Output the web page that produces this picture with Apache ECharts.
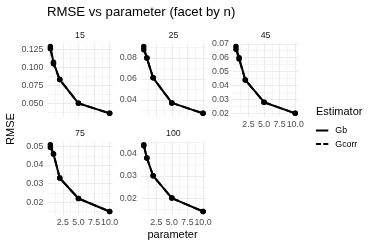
<!DOCTYPE html>
<html><head><meta charset="utf-8">
<script src="https://cdn.jsdelivr.net/npm/echarts@6/dist/echarts.min.js"></script>
<style>html,body{margin:0;padding:0;background:#fff}#c{width:373px;height:249px}</style>
</head><body><div id="c"></div>
<script>
// ---- data ----
const params = [0.5, 1, 2, 5, 10];
const facets = ['15', '25', '45', '75', '100'];
const gb15 = [0.129, 0.107, 0.083, 0.050, 0.036];
const gcorr15 = [0.126, 0.105, 0.083, 0.050, 0.036];
const gb25 = [0.091, 0.080, 0.061, 0.037, 0.027];
const gcorr25 = [0.088, 0.080, 0.061, 0.037, 0.027];
const gb45 = [0.068, 0.060, 0.044, 0.028, 0.020];
const gcorr45 = [0.066, 0.059, 0.044, 0.028, 0.020];
const gb75 = [0.051, 0.046, 0.033, 0.022, 0.015];
const gcorr75 = [0.0495, 0.046, 0.033, 0.022, 0.015];
const gb100 = [0.044, 0.038, 0.030, 0.020, 0.014];
const gcorr100 = [0.0435, 0.038, 0.030, 0.020, 0.014];
// ---- tick labels ----
const xTicks = ['2.5', '5.0', '7.5', '10.0'];
const xMinor = [1.25, 3.75, 6.25, 8.75];
const yTicks15 = ['0.050', '0.075', '0.100', '0.125'];
const yMinor15 = [0.0375, 0.0625, 0.0875, 0.1125];
const yTicks25 = ['0.04', '0.06', '0.08'];
const yMinor25 = [0.03, 0.05, 0.07, 0.09];
const yTicks45 = ['0.02', '0.03', '0.04', '0.05', '0.06', '0.07'];
const yMinor45 = [0.025, 0.035, 0.045, 0.055, 0.065];
const yTicks75 = ['0.02', '0.03', '0.04', '0.05'];
const yMinor75 = [0.015, 0.025, 0.035, 0.045];
const yTicks100 = ['0.02', '0.03', '0.04'];
const yMinor100 = [0.015, 0.025, 0.035, 0.045];

const gbAll = [gb15, gb25, gb45, gb75, gb100];
const gcAll = [gcorr15, gcorr25, gcorr45, gcorr75, gcorr100];
const yTickAll = [yTicks15, yTicks25, yTicks45, yTicks75, yTicks100];
const yMinorAll = [yMinor15, yMinor25, yMinor45, yMinor75, yMinor100];

// ---- layout ----
const FONT = 'Liberation Sans';
const W = 65.2, H = 73.5;
const pos = [[47.4, 43.2], [140.8, 43.2], [233.0, 43.2], [47.4, 141.3], [140.8, 141.3]];
const showX = [false, false, true, true, true];
const MAJ = '#EBEBEB', MIN = '#F4F4F4';

function expand(vals) {
  const lo = Math.min(...vals), hi = Math.max(...vals), r = hi - lo;
  return [lo - 0.05 * r, hi + 0.05 * r];
}
function gridVals(majorStr, minor) {
  const all = majorStr.map(s => ({v: parseFloat(s), m: true})).concat(minor.map(v => ({v, m: false})));
  all.sort((a, b) => a.v - b.v);
  return {vals: all.map(a => a.v), colors: all.map(a => a.m ? MAJ : MIN)};
}

const grid = [], xAxis = [], yAxis = [], series = [], graphic = [];
const xr = expand(params);
const xg = gridVals(xTicks, xMinor);
facets.forEach((f, i) => {
  const [l, t] = pos[i];
  grid.push({left: l, top: t, width: W, height: H, containLabel: false});
  xAxis.push({
    gridIndex: i, type: 'value', min: xr[0], max: xr[1],
    axisLine: {show: false},
    axisTick: {show: false, customValues: xg.vals},
    axisLabel: {show: showX[i], customValues: xTicks.map(parseFloat),
      formatter: v => v.toFixed(1), margin: 3, color: '#4D4D4D', fontSize: 8.8, fontFamily: FONT},
    splitLine: {show: true, lineStyle: {color: xg.colors, width: 1}}
  });
  const yr = expand(gbAll[i].concat(gcAll[i]));
  const yg = gridVals(yTickAll[i], yMinorAll[i]);
  const dec = yTickAll[i][0].split('.')[1].length;
  yAxis.push({
    gridIndex: i, type: 'value', min: yr[0], max: yr[1],
    axisLine: {show: false},
    axisTick: {show: false, customValues: yg.vals},
    axisLabel: {customValues: yTickAll[i].map(parseFloat), formatter: v => v.toFixed(dec),
      margin: 4, color: '#4D4D4D', fontSize: 8.8, fontFamily: FONT},
    splitLine: {show: true, lineStyle: {color: yg.colors, width: 1}}
  });
  series.push({
    name: 'Gcorr', type: 'line', xAxisIndex: i, yAxisIndex: i,
    data: params.map((x, j) => [x, gcAll[i][j]]),
    symbol: 'circle', symbolSize: 5.5, showSymbol: true,
    lineStyle: {color: '#000', width: 2, type: 'dashed'}, itemStyle: {color: '#000'}, z: 2
  });
  series.push({
    name: 'Gb', type: 'line', xAxisIndex: i, yAxisIndex: i,
    data: params.map((x, j) => [x, gbAll[i][j]]),
    symbol: 'circle', symbolSize: 5.5, showSymbol: true,
    lineStyle: {color: '#000', width: 2, type: 'solid'}, itemStyle: {color: '#000'}, z: 3
  });
  graphic.push({type: 'text', x: l + W / 2, y: t - 7.8,
    style: {text: f, textAlign: 'center', textVerticalAlign: 'middle', fontSize: 8.8, fill: '#1A1A1A', fontFamily: FONT}});
});
graphic.push({type: 'text', x: 172.5, y: 235,
  style: {text: 'parameter', textAlign: 'center', textVerticalAlign: 'middle', fontSize: 11, fill: '#000', fontFamily: FONT}});
graphic.push({type: 'text', x: 11, y: 129, rotation: Math.PI / 2,
  style: {text: 'RMSE', textAlign: 'center', textVerticalAlign: 'middle', fontSize: 11, fill: '#000', fontFamily: FONT}});
graphic.push({type: 'text', x: 316, y: 111.7,
  style: {text: 'Estimator', textAlign: 'left', textVerticalAlign: 'middle', fontSize: 11, fill: '#000', fontFamily: FONT}});

const chart = echarts.init(document.getElementById('c'), null, {renderer: 'canvas'});
chart.setOption({
  animation: false,
  backgroundColor: '#fff',
  title: {text: 'RMSE vs parameter (facet by n)', left: 47, top: 5.5, padding: 0,
    textStyle: {fontSize: 13.2, fontWeight: 'normal', color: '#000', fontFamily: FONT}},
  legend: {
    orient: 'vertical', left: 316, top: 126, padding: 0,
    itemWidth: 12.3, itemHeight: 2, itemGap: 4.6, selectedMode: false,
    data: [{name: 'Gb', icon: 'path://M0,0H12.3V2H0Z'}, {name: 'Gcorr', icon: 'path://M0,0H5V2H0ZM7.3,0H12.3V2H7.3Z'}],
    textStyle: {fontSize: 8.8, color: '#000', fontFamily: FONT, padding: [0, 0, 0, 2]}
  },
  grid, xAxis, yAxis, series, graphic
});
</script></body></html>
